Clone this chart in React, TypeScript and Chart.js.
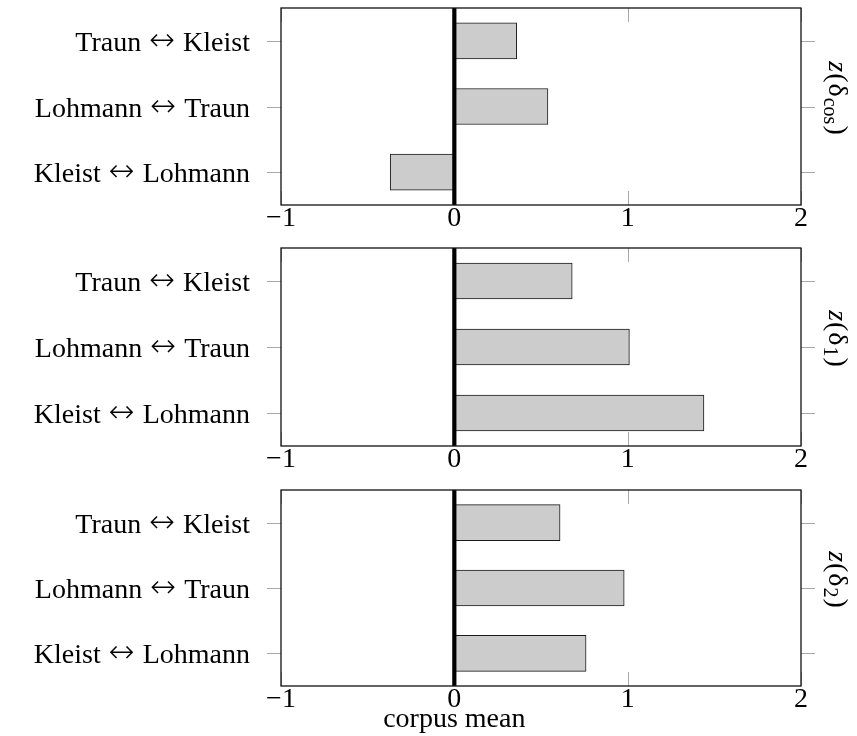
import React, { useEffect, useRef } from 'react';
import { Chart, registerables } from 'chart.js';

Chart.register(...registerables);

const categories = ['Traun ↔ Kleist', 'Lohmann ↔ Traun', 'Kleist ↔ Lohmann'];
const zCos = [0.36, 0.54, -0.37];
const zDelta1 = [0.68, 1.01, 1.44];
const zDelta2 = [0.61, 0.98, 0.76];
const xTicks = [-1, 0, 1, 2];
const panelSubs = ['cos', '1', '2'];
const xTitle = 'corpus mean';

const FONT = "'Liberation Serif', 'DejaVu Serif', serif";
const FS = 28;
const ARROW_FONT = `200 31px 'DejaVu Sans ExtraLight', 'DejaVu Sans', sans-serif`;

function fmt(v: number) {
  return v < 0 ? '\u2212' + Math.abs(v) : String(v);
}

function makeDecor(sub: string, showTitle: boolean) {
  return {
    id: 'decor',
    afterDraw(chart: any) {
      const { ctx, chartArea: a, scales } = chart;
      const x = scales.x;
      const y = scales.y;
      const line = (x1: number, y1: number, x2: number, y2: number) => {
        ctx.beginPath();
        ctx.moveTo(x1, y1);
        ctx.lineTo(x2, y2);
        ctx.stroke();
      };
      ctx.save();
      // tick marks
      ctx.strokeStyle = '#a8a8a8';
      ctx.lineWidth = 1;
      for (let i = 0; i < categories.length; i++) {
        const py = Math.round(y.getPixelForValue(i)) + 0.5;
        line(a.left - 14, py, a.left, py);
        line(a.right, py, a.right + 14, py);
      }
      for (const v of xTicks) {
        const px = Math.round(x.getPixelForValue(v)) + 0.5;
        line(px, a.top, px, a.top + 14);
        line(px, a.bottom - 14, px, a.bottom);
      }
      // zero line
      ctx.strokeStyle = '#000';
      ctx.lineWidth = 4.2;
      const x0 = x.getPixelForValue(0);
      line(x0, a.top, x0, a.bottom);
      // frame
      ctx.lineWidth = 1.3;
      ctx.strokeStyle = '#111';
      ctx.strokeRect(a.left, a.top, a.right - a.left, a.bottom - a.top);

      // category labels (category names with a wide arrow)
      ctx.fillStyle = '#000';
      ctx.textBaseline = 'alphabetic';
      ctx.textAlign = 'left';
      const rightEdge = a.left - 31;
      categories.forEach((lab, i) => {
        const [l, r] = lab.split(' ↔ ');
        const base = y.getPixelForValue(i) + 10;
        ctx.font = `${FS}px ${FONT}`;
        const wl = ctx.measureText(l).width;
        const wr = ctx.measureText(r).width;
        ctx.font = ARROW_FONT;
        const wa = ctx.measureText('↔').width;
        const gap = 8;
        let cx = rightEdge - wr - gap - wa - gap - wl;
        ctx.font = `${FS}px ${FONT}`;
        ctx.fillText(l, cx, base);
        cx += wl + gap;
        ctx.font = ARROW_FONT;
        ctx.fillText('↔', cx, base - 1);
        cx += wa + gap;
        ctx.font = `${FS}px ${FONT}`;
        ctx.fillText(r, cx, base);
      });

      // right label, rotated clockwise
      ctx.save();
      const cy = (a.top + a.bottom) / 2 - 8;
      ctx.translate(838, cy);
      ctx.rotate(Math.PI / 2);
      const parts = [
        { t: 'z', f: `italic ${FS}px ${FONT}`, dy: 0 },
        { t: '(', f: `${FS}px ${FONT}`, dy: 0 },
        { t: 'δ', f: `${FS}px ${FONT}`, dy: 0 },
        { t: sub, f: `${Math.round(FS * 0.7)}px ${FONT}`, dy: 5 },
        { t: ')', f: `${FS}px ${FONT}`, dy: 0 },
      ];
      let w = 0;
      const widths: number[] = [];
      for (const p of parts) {
        ctx.font = p.f;
        const m = ctx.measureText(p.t).width;
        widths.push(m);
        w += m + 1;
      }
      let px2 = -w / 2;
      parts.forEach((p, i) => {
        ctx.font = p.f;
        ctx.fillText(p.t, px2, 9 + p.dy);
        px2 += widths[i] + 1;
      });
      ctx.restore();

      if (showTitle) {
        ctx.font = `${FS}px ${FONT}`;
        ctx.textAlign = 'center';
        ctx.textBaseline = 'alphabetic';
        ctx.fillText(xTitle, x0, a.bottom + 41);
      }
      ctx.restore();
    },
  };
}

type PanelProps = {
  values: number[];
  sub: string;
  height: number;
  padTop: number;
  axisH: number;
  showTitle: boolean;
};

function Panel({ values, sub, height, padTop, axisH, showTitle }: PanelProps) {
  const ref = useRef<HTMLCanvasElement>(null);
  useEffect(() => {
    const chart = new Chart(ref.current!, {
      type: 'bar',
      data: {
        labels: categories,
        datasets: [
          {
            data: values,
            backgroundColor: '#cccccc',
            borderColor: '#1a1a1a',
            borderWidth: 1,
            borderSkipped: false,
            barThickness: 36,
          },
        ],
      },
      options: {
        indexAxis: 'y',
        responsive: false,
        maintainAspectRatio: false,
        animation: false,
        devicePixelRatio: 1,
        layout: { padding: { top: padTop, right: 56, left: 0, bottom: 0 } },
        plugins: { legend: { display: false }, tooltip: { enabled: false } },
        scales: {
          x: {
            type: 'linear',
            min: -1,
            max: 2,
            afterBuildTicks: (s: any) => {
              s.ticks = xTicks.map((v) => ({ value: v }));
            },
            afterFit: (s: any) => {
              s.height = axisH;
              s.paddingLeft = 0;
              s.paddingRight = 0;
            },
            grid: { display: false, drawTicks: false },
            border: { display: false },
            ticks: {
              padding: -3,
              color: '#000',
              font: { family: FONT, size: FS },
              callback: (v: any) => fmt(Number(v)),
              maxRotation: 0,
            },
          },
          y: {
            type: 'category',
            offset: true,
            afterFit: (s: any) => {
              s.width = 281;
              s.paddingTop = 0;
              s.paddingBottom = 0;
            },
            grid: { display: false, drawTicks: false },
            border: { display: false },
            ticks: { display: false },
          },
        },
      },
      plugins: [makeDecor(sub, showTitle)],
    } as any);
    return () => chart.destroy();
  }, []);
  return (
    <canvas
      ref={ref}
      width={857}
      height={height}
      style={{ display: 'block', width: 857, height }}
    />
  );
}

export default function App() {
  return (
    <div style={{ position: 'absolute', left: 0, top: 0, width: 857, height: 736, background: '#fff' }}>
      <Panel values={zCos} sub={panelSubs[0]} height={241} padTop={8} axisH={36} showTitle={false} />
      <Panel values={zDelta1} sub={panelSubs[1]} height={241} padTop={7} axisH={36} showTitle={false} />
      <Panel values={zDelta2} sub={panelSubs[2]} height={254} padTop={8} axisH={50} showTitle={true} />
    </div>
  );
}
